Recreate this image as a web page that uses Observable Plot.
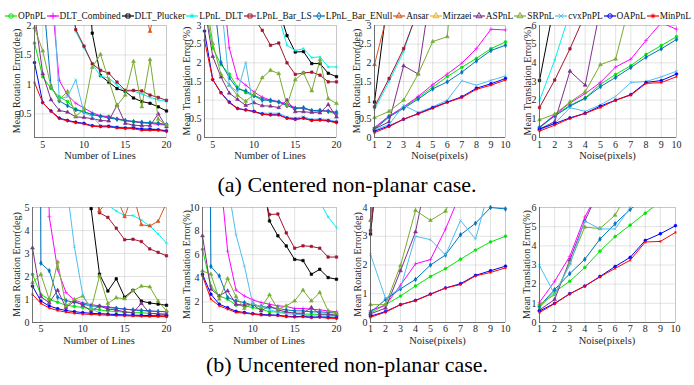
<!DOCTYPE html>
<html><head><meta charset="utf-8">
<script src="https://cdn.jsdelivr.net/npm/d3@7"></script>
<script src="https://cdn.jsdelivr.net/npm/@observablehq/plot@0.6"></script>
<style>
body{margin:0;background:#fff;}
#root{position:relative;width:694px;height:385px;overflow:hidden;font-family:"Liberation Serif","Times New Roman",serif;background:#fff;}
#legend{position:absolute;left:5px;top:10px;width:686px;height:12px;display:flex;justify-content:space-between;align-items:center;font-size:9.4px;color:#111;}
#legend .item{display:flex;align-items:center;white-space:nowrap;}
#legend svg{margin-right:1px;}
#captions{position:absolute;left:0;top:0;pointer-events:none;}
</style></head>
<body><div id="root"><div id="legend"></div></div>
<script>
const _ = null;
const seriesNames = ["OPnPL","DLT_Combined","DLT_Plucker","LPnL_DLT","LPnL_Bar_LS","LPnL_Bar_ENull","Ansar","Mirzaei","ASPnL","SRPnL","cvxPnPL","OAPnL","MinPnL"];
const seriesColors = ["#00e600","#ff00ff","#000000","#00f0f0","#a2142f","#0072bd","#d95319","#edb120","#7e2f8e","#77ac30","#4dbeee","#0000ff","#ff0000"];
const seriesSymbols = ["circle","plus","square","asterisk","square","diamond","triangle","triangle","triangle","triangle","times","circle","asterisk"];
const linesX = [4,5,6,7,8,9,10,11,12,13,14,15,16,17,18,19,20];
const noiseX = [1,2,3,4,5,6,7,8,9,10];
const linesTicks = [5,10,15,20];
const noiseTicks = [1,2,3,4,5,6,7,8,9,10];

// (a) centered, rotation vs number of lines
const rotLinesCentered = {
  OPnPL:[1.70,1.13,0.93,0.79,0.71,0.58,0.54,0.49,0.46,0.46,0.41,0.38,0.37,0.35,0.35,0.34,0.32],
  DLT_Combined:[8.0,5.0,2.6,1.07,0.82,0.68,0.60,0.52,0.47,0.45,0.42,0.39,0.37,0.35,0.34,0.32,0.31],
  DLT_Plucker:[_,_,_,_,_,9.0,4.0,1.87,1.15,1.04,0.93,0.88,0.77,0.71,0.68,0.62,0.55],
  LPnL_DLT:[_,_,_,5.5,3.0,1.90,1.62,1.35,1.14,1.11,0.99,0.88,0.89,0.84,0.78,0.74,0.71],
  LPnL_Bar_LS:[_,_,_,5.0,3.0,1.93,1.65,1.35,1.24,1.19,1.04,0.90,0.90,0.89,0.82,0.78,0.73],
  LPnL_Bar_ENull:[4.0,2.6,0.97,0.72,0.64,0.57,0.53,0.49,0.46,0.43,0.41,0.39,0.37,0.36,0.35,0.34,0.32],
  Ansar:[_,_,_,_,_,_,_,_,_,_,_,_,_,2.5,1.9,2.5,_],
  Mirzaei:[],
  ASPnL:[2.2,1.18,0.74,0.56,0.53,0.45,0.44,0.42,0.39,0.38,0.65,0.34,0.31,0.30,0.30,0.50,0.28],
  SRPnL:[1.96,1.57,0.96,0.74,0.88,0.46,0.58,1.29,1.51,1.07,0.64,0.82,1.39,0.62,1.42,0.41,0.31],
  cvxPnPL:[_,6.0,3.2,0.76,0.79,1.08,0.52,0.46,0.30,0.30,0.28,0.27,0.27,0.25,0.25,0.24,0.22],
  OAPnL:[1.37,0.69,0.55,0.43,0.39,0.36,0.34,0.30,0.29,0.29,0.27,0.26,0.26,0.24,0.24,0.23,0.21],
  MinPnL:[1.03,0.69,0.54,0.42,0.38,0.35,0.33,0.29,0.28,0.28,0.26,0.25,0.25,0.22,0.22,0.22,0.20]
};
// (a) centered, translation vs number of lines
const transLinesCentered = {
  OPnPL:[3.6,2.4,1.95,1.70,1.35,1.20,1.12,1.05,0.97,0.95,0.86,0.78,0.78,0.72,0.72,0.70,0.62],
  DLT_Combined:[8.0,6.0,4.5,2.40,1.58,1.40,1.22,1.08,1.00,0.96,0.90,0.80,0.78,0.72,0.70,0.72,0.65],
  DLT_Plucker:[_,_,_,_,_,_,_,_,5.0,3.45,2.73,2.29,2.30,1.98,1.98,1.72,1.63],
  LPnL_DLT:[_,_,_,_,_,_,_,_,4.0,3.23,2.47,2.33,2.38,2.14,2.16,1.89,1.89],
  LPnL_Bar_LS:[_,_,_,_,_,4.0,3.2,2.87,2.47,2.53,2.00,1.69,1.73,1.75,1.67,1.49,1.49],
  LPnL_Bar_ENull:[8.0,4.0,2.00,1.60,1.30,1.25,1.12,1.00,1.00,0.95,0.85,0.78,0.80,0.72,0.73,0.70,0.68],
  Ansar:[],
  Mirzaei:[],
  ASPnL:[3.5,2.17,1.62,1.19,1.02,0.86,0.93,0.85,0.84,0.80,1.00,0.69,0.69,0.67,0.66,0.88,0.55],
  SRPnL:[4.0,2.51,1.69,1.40,1.13,0.97,1.16,1.60,1.80,1.71,0.86,1.55,1.73,1.25,2.08,1.04,0.91],
  cvxPnPL:[_,6.0,3.7,1.40,1.22,2.01,0.69,0.65,0.65,0.65,0.55,0.52,0.56,0.48,0.50,0.47,0.43],
  OAPnL:[2.85,1.55,1.20,0.95,0.78,0.74,0.70,0.63,0.61,0.61,0.52,0.49,0.52,0.46,0.47,0.45,0.41],
  MinPnL:[2.60,1.55,1.19,0.93,0.77,0.73,0.69,0.62,0.60,0.60,0.51,0.48,0.51,0.45,0.46,0.44,0.39]
};
// (a) centered, rotation vs noise
const rotNoiseCentered = {
  OPnPL:[0.25,0.57,0.80,1.07,1.35,1.63,1.88,2.12,2.38,2.56],
  DLT_Combined:[0.27,0.57,0.82,1.10,1.42,1.70,1.99,2.38,2.90,2.88],
  DLT_Plucker:[0.95,4.0,_,_,_,_,_,_,_,_],
  LPnL_DLT:[0.75,1.50,2.30,3.5,_,_,_,_,_,_],
  LPnL_Bar_LS:[0.82,1.58,2.38,3.4,_,_,_,_,_,_],
  LPnL_Bar_ENull:[0.22,0.55,0.78,1.03,1.30,1.49,1.75,2.05,2.33,2.47],
  Ansar:[1.95,3.5,_,_,_,_,_,_,_,_],
  Mirzaei:[],
  ASPnL:[0.23,0.42,1.92,1.70,4.3,_,_,_,_,_],
  SRPnL:[0.53,0.70,1.00,1.70,2.57,2.70,7.0,_,_,_],
  cvxPnPL:[0.20,0.35,0.86,0.67,0.82,1.00,1.52,1.40,1.53,1.65],
  OAPnL:[0.17,0.31,0.49,0.64,0.80,0.95,1.09,1.32,1.44,1.58],
  MinPnL:[0.13,0.29,0.49,0.63,0.78,0.94,1.07,1.29,1.40,1.54]
};
// (a) centered, translation vs noise
const transNoiseCentered = {
  OPnPL:[0.50,1.20,1.72,2.12,2.85,3.38,3.85,4.45,4.93,5.40],
  DLT_Combined:[0.55,1.22,1.85,2.35,2.95,3.78,4.20,5.20,6.15,5.80],
  DLT_Plucker:[3.05,7.25,_,_,_,_,_,_,_,_],
  LPnL_DLT:[1.98,4.15,6.7,_,_,_,_,_,_,_],
  LPnL_Bar_LS:[1.60,3.08,4.75,6.6,_,_,_,_,_,_],
  LPnL_Bar_ENull:[0.55,1.15,1.68,2.10,2.72,3.22,3.75,4.30,4.75,5.25],
  Ansar:[],
  Mirzaei:[],
  ASPnL:[0.45,0.85,3.55,2.80,6.95,_,_,_,_,_],
  SRPnL:[0.95,1.25,1.90,2.45,3.90,4.20,7.4,_,_,_],
  cvxPnPL:[0.40,0.75,1.60,1.40,1.75,2.20,2.95,3.00,3.25,3.55],
  OAPnL:[0.45,0.75,1.05,1.30,1.68,2.00,2.30,2.95,3.05,3.40],
  MinPnL:[0.34,0.66,1.02,1.29,1.61,2.00,2.27,2.90,2.94,3.26]
};
// (b) uncentered, rotation vs number of lines
const rotLinesUncentered = {
  OPnPL:[2.09,1.22,1.00,0.88,0.75,0.70,0.65,0.60,0.55,0.50,0.48,0.45,0.43,0.42,0.40,0.38,0.37],
  DLT_Combined:[_,30,4.6,2.3,1.30,0.98,0.85,0.78,0.72,0.68,0.63,0.58,0.55,0.53,0.50,0.48,0.47],
  DLT_Plucker:[_,_,_,_,_,_,9.0,4.95,2.10,1.37,1.90,1.10,1.40,0.93,0.85,0.80,0.75],
  LPnL_DLT:[_,_,_,_,_,_,_,_,8.0,5.1,4.85,4.65,4.65,4.45,4.20,3.85,3.45],
  LPnL_Bar_LS:[_,_,_,_,_,_,_,7.0,4.77,4.57,4.10,3.60,3.62,3.52,3.20,3.05,2.90],
  LPnL_Bar_ENull:[100,2.58,2.25,1.10,0.95,0.88,0.80,0.72,0.70,0.65,0.62,0.58,0.55,0.52,0.50,0.48,0.47],
  Ansar:[_,_,_,_,_,_,_,8.0,4.85,5.3,5.5,4.6,5.6,4.25,4.2,4.4,5.2],
  Mirzaei:[],
  ASPnL:[3.24,1.12,0.86,1.40,0.65,0.93,0.75,0.50,0.72,0.58,0.55,0.46,0.43,0.83,0.40,0.37,0.35],
  SRPnL:[1.73,2.09,1.00,2.63,0.72,1.00,1.15,0.58,2.02,0.83,1.08,1.03,1.37,1.58,1.55,0.93,0.50],
  cvxPnPL:[_,_,_,12,6.2,3.3,1.20,0.60,0.42,0.35,0.33,0.31,0.30,0.29,0.28,0.27,0.26],
  OAPnL:[1.58,0.93,0.72,0.60,0.52,0.47,0.43,0.40,0.38,0.36,0.35,0.33,0.32,0.31,0.30,0.29,0.28],
  MinPnL:[1.22,0.83,0.63,0.52,0.45,0.40,0.37,0.35,0.33,0.32,0.30,0.29,0.28,0.27,0.26,0.26,0.25]
};
// (b) uncentered, translation vs number of lines
const transLinesUncentered = {
  OPnPL:[6.45,3.35,2.50,2.23,1.72,1.66,1.52,1.38,1.15,1.15,1.10,1.04,0.96,0.96,0.93,0.87,0.82],
  DLT_Combined:[_,_,13.7,6.3,3.0,2.5,2.17,1.94,1.80,1.66,1.61,1.44,1.44,1.38,1.32,1.24,1.15],
  DLT_Plucker:[_,_,_,_,_,_,_,13.4,8.86,7.6,6.74,5.6,5.5,4.34,4.76,4.06,3.92],
  LPnL_DLT:[_,_,_,_,_,_,_,_,_,_,_,_,_,12,10.5,9.2,8.3],
  LPnL_Bar_LS:[_,_,_,_,_,_,_,12,9.4,9.45,7.85,6.55,6.75,6.7,6.55,5.8,5.8],
  LPnL_Bar_ENull:[100,5.0,4.2,2.37,2.08,1.94,1.72,1.61,1.52,1.44,1.32,1.24,1.24,1.15,1.15,1.10,1.04],
  Ansar:[],
  Mirzaei:[],
  ASPnL:[7.6,3.07,2.50,2.93,1.80,1.72,1.80,1.24,1.66,1.32,1.15,1.04,1.04,1.52,0.96,0.96,0.87],
  SRPnL:[4.62,4.34,2.23,3.97,2.45,1.44,1.89,1.52,2.59,1.38,1.66,2.08,2.99,2.08,2.79,1.24,1.04],
  cvxPnPL:[_,_,_,12,7.7,5.05,1.8,1.6,1.35,1.10,1.00,0.95,0.90,0.80,0.80,0.75,0.72],
  OAPnL:[4.34,2.65,1.80,1.50,1.20,1.10,1.00,0.93,0.90,0.87,0.78,0.75,0.77,0.70,0.72,0.67,0.63],
  MinPnL:[4.20,2.23,1.66,1.38,1.10,1.04,0.96,0.87,0.85,0.82,0.73,0.70,0.73,0.65,0.68,0.62,0.59]
};
// (b) uncentered, rotation vs noise
const rotNoiseUncentered = {
  OPnPL:[0.33,0.62,0.92,1.27,1.60,1.87,2.20,2.52,2.80,3.00],
  DLT_Combined:[0.42,0.60,1.30,2.04,2.19,3.25,4.5,_,_,_],
  DLT_Plucker:[3.08,8,_,_,_,_,_,_,_,_],
  LPnL_DLT:[3.32,8,_,_,_,_,_,_,_,_],
  LPnL_Bar_LS:[3.20,8,_,_,_,_,_,_,_,_],
  LPnL_Bar_ENull:[0.35,0.80,1.17,1.50,2.00,2.35,3.05,3.45,4.00,3.95],
  Ansar:[3.55,9,_,_,_,_,_,_,_,_],
  Mirzaei:[],
  ASPnL:[0.30,0.50,1.80,3.15,5.7,_,_,_,_,_],
  SRPnL:[0.62,0.62,1.98,3.90,3.55,3.87,5.0,_,_,_],
  cvxPnPL:[2.37,0.84,1.20,3.00,2.88,2.35,3.55,2.90,4.8,5.0],
  OAPnL:[0.22,0.38,0.62,0.77,0.99,1.20,1.35,1.64,1.80,1.96],
  MinPnL:[0.18,0.36,0.62,0.76,0.98,1.20,1.32,1.62,1.74,1.90]
};
// (b) uncentered, translation vs noise
const transNoiseUncentered = {
  OPnPL:[0.80,1.60,2.15,2.87,3.72,4.48,5.08,5.70,6.3,6.8],
  DLT_Combined:[1.05,2.15,3.45,5.5,7.0,_,_,_,_,_],
  DLT_Plucker:[],
  LPnL_DLT:[],
  LPnL_Bar_LS:[],
  LPnL_Bar_ENull:[0.85,1.72,2.55,3.30,4.35,5.15,5.9,6.5,_,_],
  Ansar:[],
  Mirzaei:[],
  ASPnL:[0.65,1.20,3.25,5.3,7.0,_,_,_,_,_],
  SRPnL:[0.95,1.45,3.10,4.98,4.90,5.6,7.0,_,_,_],
  cvxPnPL:[2.97,1.47,3.00,5.3,4.88,4.88,6.0,_,_,_],
  OAPnL:[0.60,1.00,1.50,1.90,2.40,2.92,3.40,4.28,4.63,5.05],
  MinPnL:[0.52,0.98,1.49,1.90,2.38,2.82,3.25,4.20,4.23,4.70]
};

const symMap = {
  circle: d3.symbolCircle,
  plus: d3.symbolPlus || d3.symbolCross,
  square: d3.symbolSquare,
  asterisk: d3.symbolAsterisk || d3.symbolStar,
  diamond: d3.symbolDiamond,
  triangle: d3.symbolTriangle,
  times: d3.symbolTimes || d3.symbolCross
};

const root = document.getElementById("root");
const FONT = '"Liberation Serif","Times New Roman",serif';

const panels = [
  {data: rotLinesCentered, xs: linesX, x0: 34, x1: 166, y0: 25, y1: 137, xDomain: [4,20], yDomain: [0.1,2], xTicks: linesTicks, yTicks: [0.5,1,1.5,2], yLabel: "Mean Rotation Error(deg)", xLabel: "Number of Lines", yLabelX: 16, xLabelY: 159, tickPad: 3},
  {data: transLinesCentered, xs: linesX, x0: 204, x1: 336, y0: 25, y1: 137, xDomain: [4,20], yDomain: [0,3], xTicks: linesTicks, yTicks: [0,0.5,1,1.5,2,2.5,3], yLabel: "Mean Translation Error(%)", xLabel: "Number of Lines", yLabelX: 186, xLabelY: 159, tickPad: 3},
  {data: rotNoiseCentered, xs: noiseX, x0: 374, x1: 505, y0: 25, y1: 137, xDomain: [1,10], yDomain: [0,3], xTicks: noiseTicks, yTicks: [0,0.5,1,1.5,2,2.5,3], yLabel: "Mean Rotation Error(deg)", xLabel: "Noise(pixels)", yLabelX: 356, xLabelY: 159, tickPad: 3},
  {data: transNoiseCentered, xs: noiseX, x0: 539, x1: 676, y0: 25, y1: 137, xDomain: [1,10], yDomain: [0,6], xTicks: noiseTicks, yTicks: [0,1,2,3,4,5,6], yLabel: "Mean Translation Error(%)", xLabel: "Noise(pixels)", yLabelX: 527, xLabelY: 159, tickPad: 3},
  {data: rotLinesUncentered, xs: linesX, x0: 32, x1: 166, y0: 207, y1: 322, xDomain: [4,20], yDomain: [0,5], xTicks: linesTicks, yTicks: [0,1,2,3,4,5], yLabel: "Mean Rotation Error(deg)", xLabel: "Number of Lines", yLabelX: 16, xLabelY: 344, tickPad: 2},
  {data: transLinesUncentered, xs: linesX, x0: 202, x1: 336, y0: 207, y1: 322, xDomain: [4,20], yDomain: [0.25,10], xTicks: linesTicks, yTicks: [2,4,6,8,10], yLabel: "Mean Translation Error(%)", xLabel: "Number of Lines", yLabelX: 186, xLabelY: 344, tickPad: 2},
  {data: rotNoiseUncentered, xs: noiseX, x0: 370, x1: 505, y0: 207, y1: 322, xDomain: [1,10], yDomain: [0,4], xTicks: noiseTicks, yTicks: [0,1,2,3,4], yLabel: "Mean Rotation Error(deg)", xLabel: "Noise(pixels)", yLabelX: 357, xLabelY: 344, tickPad: 2},
  {data: transNoiseUncentered, xs: noiseX, x0: 539, x1: 675, y0: 207, y1: 322, xDomain: [1,10], yDomain: [0,6], xTicks: noiseTicks, yTicks: [0,1,2,3,4,5,6], yLabel: "Mean Translation Error(%)", xLabel: "Noise(pixels)", yLabelX: 526, xLabelY: 344, tickPad: 2}
];

function makePanel(p) {
  const mL = 45, mR = 6, mT = 6, mB = 40;
  const W = p.x1 - p.x0 + mL + mR, H = p.y1 - p.y0 + mT + mB;
  const marks = [
    Plot.gridX(p.xTicks, {stroke: "#262626", strokeOpacity: 0.13}),
    Plot.gridY(p.yTicks, {stroke: "#262626", strokeOpacity: 0.13}),
    Plot.frame({stroke: "#262626", strokeOpacity: 0.15})
  ];
  seriesNames.forEach((name, i) => {
    const ys = p.data[name];
    if (!ys || !ys.length) return;
    const rows = p.xs.map((x, j) => ({x, y: ys[j] == null ? null : ys[j]}));
    marks.push(Plot.line(rows, {x: "x", y: "y", stroke: seriesColors[i], strokeWidth: 1, clip: true}));
    const inside = rows.filter(d => d.y != null && d.y >= p.yDomain[0] && d.y <= p.yDomain[1]);
    marks.push(Plot.dot(inside, {x: "x", y: "y", r: 1.4, fill: seriesColors[i], stroke: seriesColors[i], strokeWidth: 0.6, symbol: symMap[seriesSymbols[i]]}));
  });
  marks.push(Plot.ruleX([p.xDomain[0]], {stroke: "#555", strokeWidth: 0.8}));
  marks.push(Plot.ruleY([p.yDomain[0]], {stroke: "#555", strokeWidth: 0.8}));
  marks.push(Plot.axisX(p.xTicks, {tickSize: 0, tickPadding: p.tickPad, label: null, tickFormat: d => String(d)}));
  marks.push(Plot.axisY(p.yTicks, {tickSize: 0, tickPadding: 3, label: null, tickFormat: d => String(d)}));
  const svg = Plot.plot({
    width: W, height: H,
    marginLeft: mL, marginRight: mR, marginTop: mT, marginBottom: mB,
    x: {domain: p.xDomain},
    y: {domain: p.yDomain},
    style: {fontFamily: FONT, fontSize: "10px", color: "#262626", background: "none", overflow: "visible"},
    marks
  });
  svg.style.position = "absolute";
  svg.style.left = (p.x0 - mL) + "px";
  svg.style.top = (p.y0 - mT) + "px";
  const g = d3.select(svg);
  g.append("text")
    .attr("transform", `translate(${p.yLabelX - (p.x0 - mL)},${mT + (p.y1 - p.y0) / 2}) rotate(-90)`)
    .attr("text-anchor", "middle").attr("dy", "0.35em")
    .attr("font-size", 10).attr("fill", "#262626").text(p.yLabel);
  g.append("text")
    .attr("x", mL + (p.x1 - p.x0) / 2).attr("y", p.xLabelY - (p.y0 - mT))
    .attr("text-anchor", "middle").attr("font-size", 10.5).attr("fill", "#262626").text(p.xLabel);
  root.appendChild(svg);
}
panels.forEach(makePanel);

// legend
const legend = d3.select("#legend");
seriesNames.forEach((name, i) => {
  const item = legend.append("div").attr("class", "item");
  const s = item.append("svg").attr("width", 12).attr("height", 10);
  s.append("line").attr("x1", 0).attr("x2", 12).attr("y1", 5).attr("y2", 5)
    .attr("stroke", seriesColors[i]).attr("stroke-width", 1.2);
  s.append("path").attr("transform", "translate(6,5)")
    .attr("d", d3.symbol(symMap[seriesSymbols[i]], 16)())
    .attr("fill", "none").attr("stroke", seriesColors[i]).attr("stroke-width", 1);
  item.append("span").text(name);
});

// captions
const cap = d3.select(root).append("svg").attr("id", "captions").attr("width", 694).attr("height", 385);
cap.append("text").attr("x", 347).attr("y", 192).attr("text-anchor", "middle")
  .attr("font-family", FONT).attr("font-size", 22).attr("fill", "#000").text("(a) Centered non-planar case.");
cap.append("text").attr("x", 347).attr("y", 372).attr("text-anchor", "middle")
  .attr("font-family", FONT).attr("font-size", 22).attr("fill", "#000").text("(b) Uncentered non-planar case.");
</script>
</body></html>
